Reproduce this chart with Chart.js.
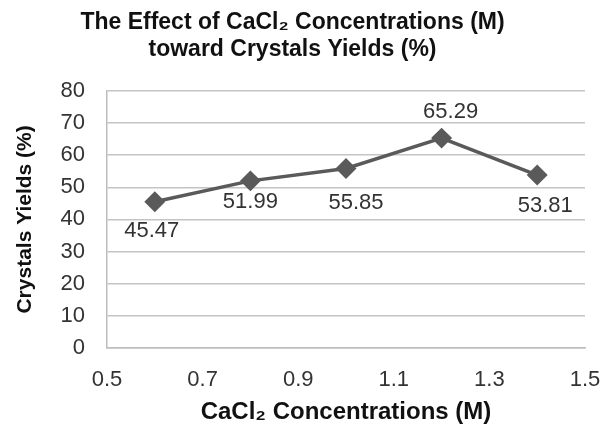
<!DOCTYPE html>
<html>
<head>
<meta charset="utf-8">
<script src="https://cdn.jsdelivr.net/npm/chart.js@4"></script>
<style>
  html, body { margin: 0; padding: 0; background: #fff; }
  #wrap { width: 605px; height: 427px; }
</style>
</head>
<body>
<div id="wrap"><canvas id="grafico" width="605" height="427"></canvas></div>
<script>
// dados
const concentracoes = [0.6, 0.8, 1.0, 1.2, 1.4];
const rendimentos = [45.47, 51.99, 55.85, 65.29, 53.81];
const rotulos = ["45.47", "51.99", "55.85", "65.29", "53.81"];
const tituloLinhas = ["The Effect of CaCl\u2082 Concentrations (M)", "toward Crystals Yields (%)"];
const tituloX = "CaCl\u2082 Concentrations (M)";
const tituloY = "Crystals Yields (%)";

// deslocamento de cada rótulo em relação ao ponto (px)
const deslocRotulos = [[-3, 29], [0, 21], [10, 34], [9, -26], [8, 31]];

const cinza = "#5a5a5a";
const fonte = "'Liberation Sans', Arial, sans-serif";

const rotulosPlugin = {
  id: "rotulos",
  afterDatasetsDraw(chart) {
    const ctx = chart.ctx;
    const meta = chart.getDatasetMeta(0);
    ctx.save();
    ctx.font = "22px " + fonte;
    ctx.fillStyle = "#333";
    ctx.textAlign = "center";
    ctx.textBaseline = "middle";
    meta.data.forEach((p, i) => {
      const d = deslocRotulos[i];
      ctx.fillText(rotulos[i], p.x + d[0], p.y + d[1]);
    });
    ctx.restore();
  }
};

new Chart(document.getElementById("grafico"), {
  type: "line",
  data: {
    datasets: [{
      data: concentracoes.map((x, i) => ({ x: x, y: rendimentos[i] })),
      borderColor: cinza,
      backgroundColor: cinza,
      borderWidth: 3.5,
      pointStyle: "rectRot",
      pointRadius: 8,
      pointBackgroundColor: cinza,
      pointBorderColor: cinza,
      tension: 0
    }]
  },
  options: {
    responsive: false,
    animation: false,
    layout: { padding: { left: 0, right: 20, top: 0, bottom: 0 } },
    plugins: {
      legend: { display: false },
      tooltip: { enabled: false },
      title: {
        display: true,
        text: tituloLinhas,
        color: "#111",
        font: { family: fonte, size: 23, weight: "bold", lineHeight: 1.17 },
        padding: { top: 9, bottom: 28 }
      }
    },
    scales: {
      x: {
        type: "linear",
        min: 0.5,
        max: 1.5,
        ticks: {
          stepSize: 0.2,
          color: "#333",
          font: { family: fonte, size: 22 },
          padding: 19,
          callback: v => v.toFixed(1)
        },
        grid: { display: false, drawTicks: false },
        border: { color: "#bdbdbd", width: 1.5 },
        title: {
          display: true,
          text: tituloX,
          color: "#111",
          font: { family: fonte, size: 24, weight: "bold" },
          padding: { top: 4, bottom: 0 }
        },
        afterFit: s => {
          s.height = 427 - 348;
          s.paddingLeft = 0;
          s.paddingRight = 0;
        }
      },
      y: {
        min: 0,
        max: 80,
        ticks: {
          stepSize: 10,
          color: "#333",
          font: { family: fonte, size: 22 },
          padding: 22
        },
        grid: { color: "#c4c4c4", lineWidth: 1.5, drawTicks: false },
        border: { color: "#bdbdbd", width: 1.5 },
        title: {
          display: true,
          text: tituloY,
          color: "#111",
          font: { family: fonte, size: 21, weight: "bold" },
          padding: { top: 13, bottom: 0 }
        },
        afterFit: s => { s.width = 107; }
      }
    }
  },
  plugins: [rotulosPlugin]
});
</script>
</body>
</html>
